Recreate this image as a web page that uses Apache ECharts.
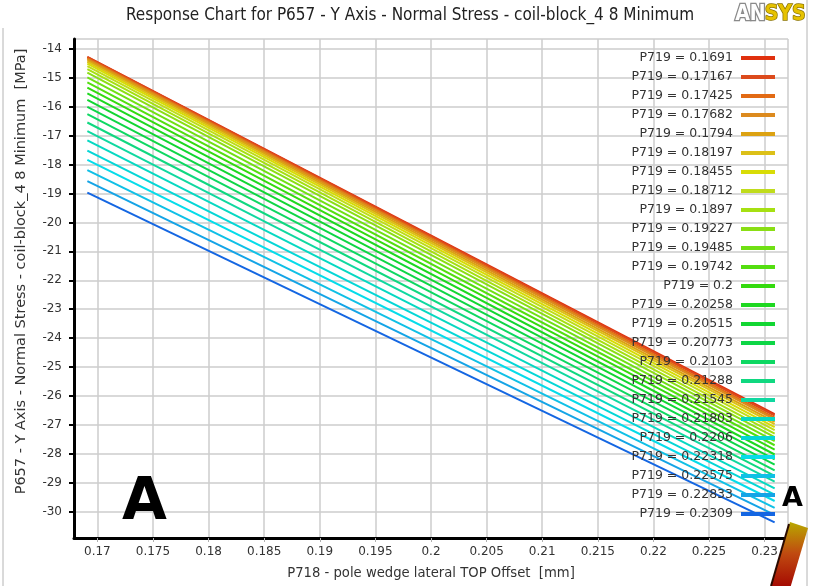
<!DOCTYPE html>
<html>
<head>
<meta charset="utf-8">
<title>Response Chart for P657</title>
<script src="https://cdn.jsdelivr.net/npm/echarts@6/dist/echarts.min.js"></script>
<style>
  html, body { margin: 0; padding: 0; background: #ffffff; }
  #chart { width: 813px; height: 586px; }
</style>
</head>
<body>
<div id="chart"></div>
<script>
// Input parameter P719 (one curve per value) as shown in the legend
const p719Labels = ['0.1691', '0.17167', '0.17425', '0.17682', '0.1794', '0.18197', '0.18455',
  '0.18712', '0.1897', '0.19227', '0.19485', '0.19742', '0.2', '0.20258', '0.20515', '0.20773',
  '0.2103', '0.21288', '0.21545', '0.21803', '0.2206', '0.22318', '0.22575', '0.22833', '0.2309'];

// P718 sweep (x axis) end points of each response curve
const p718Start = 0.1691;
const p718End = 0.2309;

// P657 response [MPa] at the start and end of the P718 sweep, one value per P719 curve
const stressAtStart = [-14.27, -14.28, -14.31, -14.35, -14.39, -14.44, -14.50, -14.59, -14.69,
  -14.81, -14.98, -15.15, -15.33, -15.53, -15.76, -16.00, -16.25, -16.54, -16.84, -17.16,
  -17.51, -17.83, -18.19, -18.57, -18.97];
const stressAtEnd = [-26.63, -26.68, -26.75, -26.81, -26.90, -26.98, -27.08, -27.19, -27.31,
  -27.43, -27.57, -27.71, -27.86, -28.03, -28.20, -28.38, -28.58, -28.77, -28.97, -29.20,
  -29.42, -29.64, -29.88, -30.12, -30.38];

// Rainbow colour ramp, red for the lowest P719 through to blue for the highest
const curveColors = ['#e0300e', '#dc4a1c', '#e26a14', '#dc8a1e', '#dca212', '#dcc018',
  '#d8dc06', '#c0dc1c', '#a6e012', '#8ade14', '#70e014', '#54de10', '#34da0e', '#1ed820',
  '#12d632', '#0ed646', '#0ed862', '#10d880', '#10d8a0', '#06d8c2', '#04d6d6', '#06dcea',
  '#10c0e6', '#14a4e6', '#1466e2'];

const chart = echarts.init(document.getElementById('chart'), null, { renderer: 'canvas' });

const series = p719Labels.map((lab, i) => ({
  name: 'P719 = ' + lab,
  type: 'line',
  data: [[p718Start, stressAtStart[i]], [p718End, stressAtEnd[i]]],
  showSymbol: false,
  symbol: 'none',
  color: curveColors[i],
  lineStyle: { width: 2, color: curveColors[i] },
  emphasis: { disabled: true },
  silent: true
}));

const labelFont = 'DejaVu Sans';

chart.setOption({
  animation: false,
  backgroundColor: '#ffffff',
  title: {
    text: 'Response Chart for P657 - Y Axis - Normal Stress - coil-block_4 8 Minimum',
    left: 405,
    textAlign: 'center',
    top: 2,
    textStyle: { fontFamily: 'DejaVu Sans Condensed', fontSize: 17, fontWeight: 'normal', color: '#222' }
  },
  legend: {
    orient: 'vertical',
    right: 33,
    top: 46,
    align: 'right',
    icon: 'rect',
    itemWidth: 34,
    itemHeight: 4,
    itemGap: 5,
    z: 10,
    data: p719Labels.map(l => 'P719 = ' + l),
    textStyle: { fontFamily: labelFont, fontSize: 12.5, color: '#333', lineHeight: 14, padding: [0, 3, 0, 0] }
  },
  grid: { left: 74, right: 25, top: 39, bottom: 48, containLabel: false },
  xAxis: {
    type: 'value',
    min: 0.1679,
    max: 0.2321,
    minInterval: 0.005,
    maxInterval: 0.005,
    name: 'P718 - pole wedge lateral TOP Offset  [mm]',
    nameLocation: 'middle',
    nameGap: 29,
    nameTextStyle: { fontFamily: labelFont, fontSize: 13.2, color: '#333' },
    axisLine: { show: true, onZero: false, lineStyle: { color: '#000', width: 3 } },
    axisTick: { show: true, length: 4, lineStyle: { color: '#b0b0b0', width: 1 } },
    axisLabel: { fontFamily: labelFont, fontSize: 12, color: '#333', margin: 8, showMinLabel: false, showMaxLabel: false },
    splitLine: { show: true, lineStyle: { color: '#cccccc', width: 1.5 } }
  },
  yAxis: {
    type: 'value',
    min: -30.92,
    max: -13.65,
    minInterval: 1,
    maxInterval: 1,
    name: 'P657 - Y Axis - Normal Stress - coil-block_4 8 Minimum  [MPa]',
    nameLocation: 'middle',
    nameGap: 45,
    nameTextStyle: { fontFamily: labelFont, fontSize: 14.5, color: '#333', padding: [0, 0, 0, 34] },
    axisLine: { show: true, onZero: false, lineStyle: { color: '#000', width: 3 } },
    axisTick: { show: true, length: 5, lineStyle: { color: '#000', width: 2 } },
    axisLabel: { fontFamily: labelFont, fontSize: 12, color: '#333', margin: 12, showMinLabel: false, showMaxLabel: false },
    splitLine: { show: true, lineStyle: { color: '#cccccc', width: 1.5 } }
  },
  series: series,
  graphic: [
    // outer frame of the chart panel
    { type: 'line', shape: { x1: 3, y1: 28, x2: 3, y2: 586 }, style: { stroke: '#b4b4b4', lineWidth: 1 }, silent: true },
    { type: 'line', shape: { x1: 807, y1: 0, x2: 807, y2: 586 }, style: { stroke: '#b4b4b4', lineWidth: 1 }, silent: true },
    // ANSYS logo
    { type: 'text', left: 734, top: 3, z: 20, silent: true,
      style: { text: 'AN', font: 'bold 21px "DejaVu Sans Condensed"', fill: '#ffffff', stroke: '#8a8a8a', lineWidth: 2.5 } },
    { type: 'text', left: 764, top: 3, z: 20, silent: true,
      style: { text: 'SYS', font: 'bold 21px "DejaVu Sans Condensed"', fill: '#e6c200', stroke: '#8c7400', lineWidth: 1.5 } },
    // section markers
    { type: 'text', left: 122, top: 475, z: 20, silent: true,
      style: { text: 'A', font: 'bold 58px "DejaVu Sans"', fill: '#000' } },
    { type: 'text', left: 782, top: 485, z: 20, silent: true,
      style: { text: 'A', font: 'bold 27px "DejaVu Sans"', fill: '#000' } },
    // section plane indicator bar
    { type: 'polygon', z: 20, silent: true,
      shape: { points: [[790, 522], [808, 528], [789, 592], [771, 586]] },
      style: {
        fill: new echarts.graphic.LinearGradient(0, 0, 0, 1, [
          { offset: 0, color: '#b8a800' },
          { offset: 0.45, color: '#c04a10' },
          { offset: 1, color: '#a00000' }
        ])
      } },
    { type: 'line', z: 21, silent: true,
      shape: { x1: 789, y1: 524, x2: 771, y2: 586 },
      style: { stroke: '#2a0a00', lineWidth: 2 } }
  ]
});
</script>
</body>
</html>
